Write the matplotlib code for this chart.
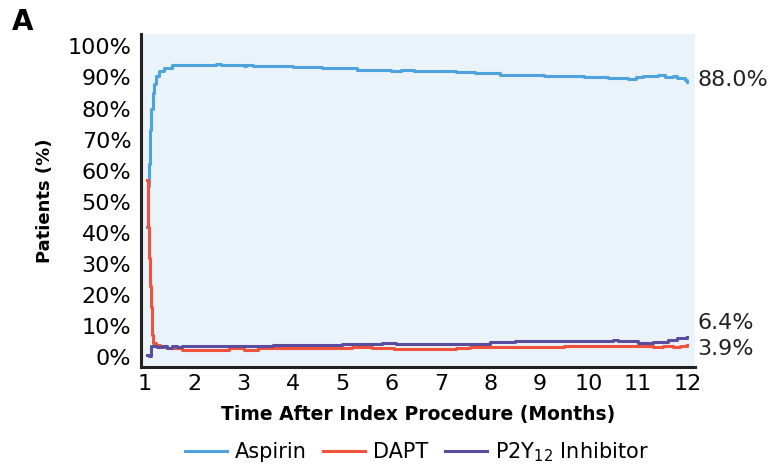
import matplotlib
matplotlib.use("Agg")
import matplotlib.pyplot as plt

plt.rcParams['font.family'] = ['DejaVu Sans']
plt.rcParams['mathtext.fontset'] = 'dejavusans'

# months after index procedure and % of patients on each therapy (step curves)
aspirin_t = [1.04, 1.06, 1.08, 1.10, 1.13, 1.16, 1.19, 1.23, 1.28, 1.38, 1.55, 2.0, 2.45, 2.55,
             3.0, 3.05, 3.2, 4.0, 4.6, 5.3, 6.0, 6.2, 6.45, 7.3, 7.7, 8.2, 9.1, 9.9, 10.2,
             10.4, 10.8, 10.95, 11.1, 11.4, 11.55, 11.7, 11.8, 11.95, 12.0]
aspirin_v = [42, 55, 62, 73, 80, 85, 88, 90.5, 92, 93.2, 93.9, 94.1, 94.4, 94.1,
             93.7, 94.0, 93.6, 93.3, 92.9, 92.5, 92.2, 92.5, 92.1, 91.7, 91.4, 90.9, 90.5, 90.1, 90.3,
             89.8, 89.5, 90.1, 90.5, 90.8, 90.3, 90.6, 89.9, 89.1, 88.5]

dapt_t = [1.04, 1.07, 1.08, 1.10, 1.12, 1.14, 1.17, 1.22, 1.30, 1.45, 1.75, 2.7, 3.0, 3.3,
          3.5, 5.2, 5.6, 6.0, 6.05, 7.3, 7.6, 8.5, 8.55, 9.5, 10.5, 11.0, 11.3, 11.5, 11.7, 11.85, 12.0]
dapt_v = [57, 42, 32, 23, 16, 7, 4.5, 3.8, 3.3, 2.8, 2.4, 2.8, 2.4, 2.8,
          3.0, 3.3, 2.8, 2.8, 2.5, 2.8, 3.1, 3.3, 3.1, 3.4, 3.6, 3.4, 3.2, 3.6, 3.2, 3.7, 4.0]

p2y12_t = [1.04, 1.09, 1.12, 1.25, 1.35, 1.45, 1.55, 1.65, 1.75, 2.0, 3.2, 3.6, 5.0, 5.8,
           6.1, 6.5, 8.0, 8.5, 10.5, 10.6, 11.0, 11.3, 11.6, 11.8, 12.0]
p2y12_v = [0.8, 0.3, 3.6, 3.2, 3.4, 3.0, 3.5, 3.1, 3.5, 3.4, 3.6, 3.8, 4.2, 4.5,
           4.2, 4.2, 4.7, 5.2, 5.5, 5.2, 4.6, 5.0, 5.6, 6.1, 6.6]

series = [
    ("Aspirin", aspirin_t, aspirin_v, "#4ea3dc"),
    ("DAPT", dapt_t, dapt_v, "#f0523b"),
    ("P2Y$_{12}$ Inhibitor", p2y12_t, p2y12_v, "#5a4d9e"),
]
end_labels = [("88.0%", 89.2), ("6.4%", 11.0), ("3.9%", 2.6)]

fig = plt.figure(figsize=(7.72, 4.69), dpi=100)
ax = fig.add_axes([141 / 772, 1 - 367 / 469, 554 / 772, 333 / 469])
ax.set_facecolor("#eaf2fa")

for name, t, v, c in series:
    ax.plot(t, v, drawstyle="steps-post", color=c, lw=2.2, label=name)

ax.set_xlim(0.92, 12.155)
ax.set_ylim(-3.2, 104)
ax.set_xticks(range(1, 13))
ax.set_yticks(range(0, 101, 10))
ax.set_yticklabels([f"{y}%" for y in range(0, 101, 10)])
ax.tick_params(axis="x", length=0, labelsize=16, pad=5)
ax.tick_params(axis="y", length=0, labelsize=16, pad=7)
for s in ["top", "right"]:
    ax.spines[s].set_visible(False)
for s in ["left", "bottom"]:
    ax.spines[s].set_linewidth(2.2)
    ax.spines[s].set_color("#222222")

for txt, y in end_labels:
    ax.text(12.2, y, txt, fontsize=16, va="center", ha="left", color="#222222")

ax.set_xlabel("Time After Index Procedure (Months)", fontsize=13.5, fontweight="bold", labelpad=8)
ax.set_ylabel("Patients (%)", fontsize=13, fontweight="bold", labelpad=10)
fig.text(0.016, 0.953, "A", fontsize=20, fontweight="bold", va="center")

fig.legend(loc="center", bbox_to_anchor=(417 / 772, 1 - 452 / 469), ncol=3, frameon=False,
           fontsize=15, handlelength=2.0, columnspacing=0.8, handletextpad=0.4)

fig.savefig("out.png", dpi=100)
